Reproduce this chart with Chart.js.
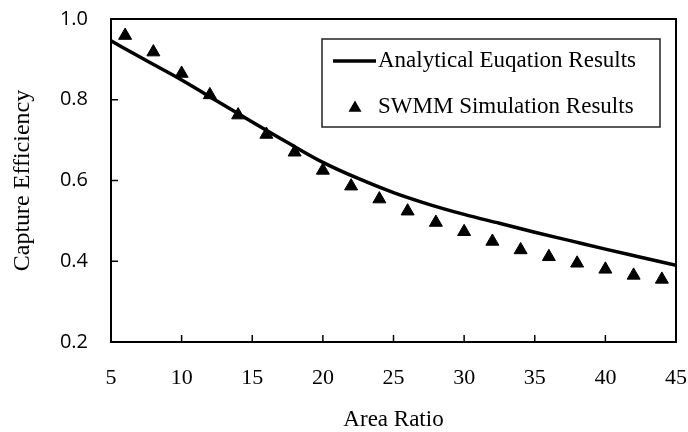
<!DOCTYPE html>
<html>
<head>
<meta charset="utf-8">
<script src="https://cdn.jsdelivr.net/npm/chart.js@4.4.1/dist/chart.umd.min.js"></script>
<style>
  html, body { margin: 0; padding: 0; background: #ffffff; }
  #wrap { width: 688px; height: 432px; }
</style>
</head>
<body>
<div id="wrap"><canvas id="c" width="688" height="432"></canvas></div>
<script>
// ---- data ----
const seriesNames = ["Analytical Euqation Results", "SWMM Simulation Results"];
const xTitle = "Area Ratio";
const yTitle = "Capture Efficiency";

// analytical curve
const curveX = [5, 7.5, 10, 12.5, 15, 17.5, 20, 22.5, 25, 27.5, 30, 32.5, 35, 37.5, 40, 42.5, 45];
const curveY = [0.946, 0.897, 0.849, 0.797, 0.745, 0.694, 0.645, 0.605, 0.570, 0.541, 0.516, 0.494, 0.472, 0.451, 0.430, 0.410, 0.390];

// SWMM simulation points
const simX = [6, 8, 10, 12, 14, 16, 18, 20, 22, 24, 26, 28, 30, 32, 34, 36, 38, 40, 42, 44];
const simY = [0.959, 0.918, 0.865, 0.812, 0.762, 0.714, 0.670, 0.625, 0.586, 0.554, 0.524, 0.496, 0.473, 0.449, 0.428, 0.411, 0.395, 0.380, 0.365, 0.355];

const xTicks = [5, 10, 15, 20, 25, 30, 35, 40, 45];
const yTicks = [0.2, 0.4, 0.6, 0.8, 1.0];

// ---- plugins ----
const framePlugin = {
  id: 'frame',
  afterDatasetsDraw(chart) {
    const ctx = chart.ctx, a = chart.chartArea;
    ctx.save();
    ctx.strokeStyle = '#000';
    ctx.lineWidth = 2;
    ctx.strokeRect(a.left, a.top, a.right - a.left, a.bottom - a.top);
    // inward tick marks
    ctx.lineWidth = 1.5;
    const xs = chart.scales.x, ys = chart.scales.y;
    xs.ticks.forEach((t, i) => {
      const px = xs.getPixelForTick(i);
      ctx.beginPath(); ctx.moveTo(px, a.bottom); ctx.lineTo(px, a.bottom - 7); ctx.stroke();
    });
    ys.ticks.forEach((t, i) => {
      const py = ys.getPixelForTick(i);
      ctx.beginPath(); ctx.moveTo(a.left, py); ctx.lineTo(a.left + 7, py); ctx.stroke();
    });
    ctx.restore();
  }
};

const legendBoxPlugin = {
  id: 'legendBox',
  afterDraw(chart) {
    const ctx = chart.ctx, a = chart.chartArea;
    const w = 338, h = 88;
    const bx = a.right - 16 - w, by = a.top + 20;
    ctx.save();
    ctx.fillStyle = '#fff';
    ctx.fillRect(bx, by, w, h);
    ctx.strokeStyle = '#222';
    ctx.lineWidth = 1.5;
    ctx.strokeRect(bx, by, w, h);
    const ds = chart.data.datasets;
    const row1 = by + 22, row2 = by + 68;
    ctx.strokeStyle = '#000';
    ctx.lineWidth = 3.5;
    ctx.beginPath(); ctx.moveTo(bx + 11, row1); ctx.lineTo(bx + 54, row1); ctx.stroke();
    const cx = bx + 33, cy = row2 + 1, r = 7.5;
    ctx.fillStyle = '#000';
    ctx.beginPath();
    ctx.moveTo(cx, cy - r);
    ctx.lineTo(cx + 0.866 * r, cy + r / 2);
    ctx.lineTo(cx - 0.866 * r, cy + r / 2);
    ctx.closePath(); ctx.fill();
    ctx.font = '23px "Liberation Serif", "Times New Roman", serif';
    ctx.textBaseline = 'middle';
    ctx.textAlign = 'left';
    ctx.fillText(ds[0].label, bx + 56, row1);
    ctx.fillText(ds[1].label, bx + 56, row2);
    ctx.restore();
  }
};

// ---- chart ----
new Chart(document.getElementById('c'), {
  type: 'scatter',
  data: {
    datasets: [
      {
        label: seriesNames[0],
        data: curveX.map((x, i) => ({ x: x, y: curveY[i] })),
        showLine: true,
        borderColor: '#000',
        borderWidth: 3.5,
        pointRadius: 0,
        cubicInterpolationMode: 'monotone',
        fill: false,
        order: 2
      },
      {
        label: seriesNames[1],
        data: simX.map((x, i) => ({ x: x, y: simY[i] })),
        showLine: false,
        pointStyle: 'triangle',
        pointRadius: 7.5,
        pointHoverRadius: 7.5,
        backgroundColor: '#000',
        borderColor: '#000',
        borderWidth: 1,
        order: 1
      }
    ]
  },
  options: {
    responsive: false,
    devicePixelRatio: 1,
    animation: false,
    events: [],
    layout: { padding: { top: 19, right: 12, left: 0, bottom: 0 } },
    plugins: {
      legend: { display: false },
      tooltip: { enabled: false }
    },
    scales: {
      x: {
        type: 'linear',
        min: xTicks[0],
        max: xTicks[xTicks.length - 1],
        afterBuildTicks(scale) { scale.ticks = xTicks.map(v => ({ value: v })); },
        afterFit(scale) { scale.height = 90; scale.paddingLeft = 0; scale.paddingRight = 0; },
        grid: { display: false, drawTicks: false },
        border: { display: false },
        ticks: {
          padding: 23,
          color: '#000',
          font: { family: '"Liberation Serif", "Times New Roman", serif', size: 22 },
          callback: v => String(v)
        },
        title: {
          display: true,
          text: xTitle,
          color: '#000',
          font: { family: '"Liberation Serif", "Times New Roman", serif', size: 23, lineHeight: 1 },
          padding: { top: 0, bottom: 1 }
        }
      },
      y: {
        type: 'linear',
        min: yTicks[0],
        max: yTicks[yTicks.length - 1],
        afterBuildTicks(scale) { scale.ticks = yTicks.map(v => ({ value: v })); },
        afterFit(scale) { scale.width = 111; scale.paddingTop = 0; scale.paddingBottom = 0; },
        grid: { display: false, drawTicks: false },
        border: { display: false },
        ticks: {
          padding: 23,
          color: '#000',
          font: { family: '"Open Sans", sans-serif', size: 20 },
          callback: v => Number(v).toFixed(1)
        },
        title: {
          display: true,
          text: yTitle,
          color: '#000',
          font: { family: '"Liberation Serif", "Times New Roman", serif', size: 24, lineHeight: 1.2 },
          padding: { top: 8, bottom: 0 }
        }
      }
    }
  },
  plugins: [framePlugin, legendBoxPlugin]
});
</script>
</body>
</html>
